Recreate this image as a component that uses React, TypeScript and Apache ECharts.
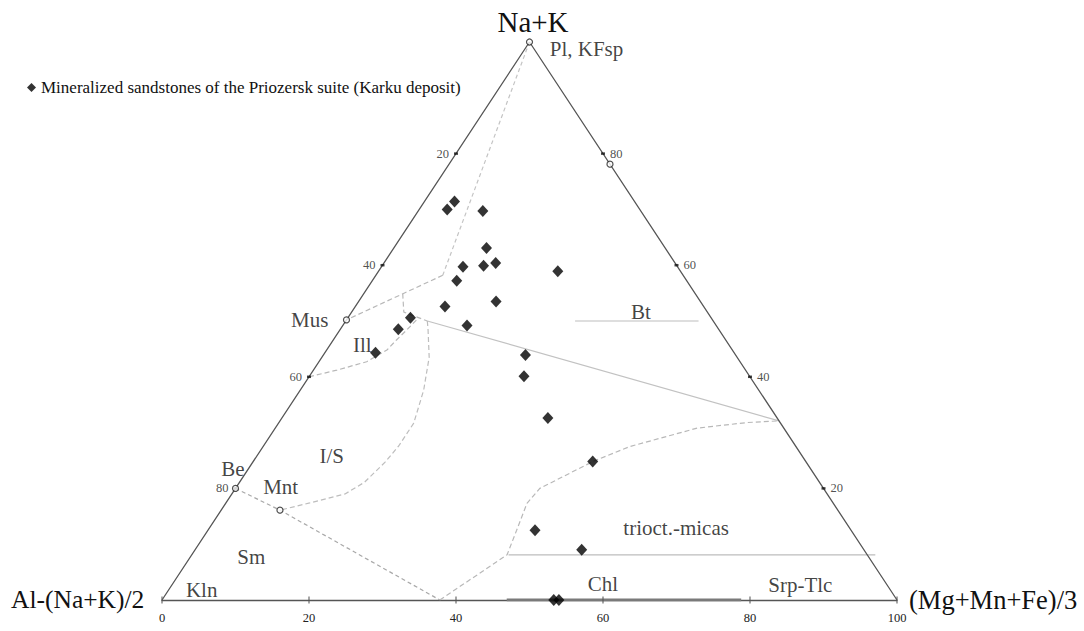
import React, { useEffect, useRef } from "react";
import * as echarts from "echarts";

const FONT = "'Liberation Serif', 'Times New Roman', Times, serif";
const sampleName = "Mineralized sandstones of the Priozersk suite (Karku deposit)";

// Sample compositions (%): Al-(Na+K)/2, Na+K, (Mg+Mn+Fe)/3
const sampleAl = [24.5, 26.2, 21.5, 24.3, 29.2, 26.3, 24.4, 16.7, 31.3, 27.8, 35.2, 40.9, 43.6, 33.9, 48.8, 28.6, 30.7, 31.2, 29.0, 43.0, 38.4, 46.7, 46.0];
const sampleNaK = [71.4, 70.0, 69.7, 63.1, 59.7, 59.9, 60.4, 58.9, 57.2, 53.5, 52.6, 50.6, 48.5, 49.2, 44.3, 43.9, 40.1, 32.6, 24.8, 12.5, 9.0, 0, 0];
const sampleMgFe = [4.1, 3.8, 8.8, 12.6, 11.1, 13.8, 15.2, 24.4, 11.5, 18.7, 12.2, 8.5, 7.9, 16.9, 6.9, 27.5, 29.2, 36.2, 46.2, 44.5, 52.6, 53.3, 54.0];

// Mineral end-members (open circles): Na+K, (Mg+Mn+Fe)/3
const memberNaK = [100, 78.1, 50.2, 20.0, 16.1];
const memberMgFe = [0, 21.9, 0, 0, 8.0];

// Field boundaries as [(Mg+Mn+Fe)/3, Na+K] pairs
const feldsparTie = [[0, 100], [9.1, 58.2]];
const muscoviteTie = [[9.1, 58.2], [0, 50.2]];
const illiteStep = [[5.3, 54.9], [7.1, 51.6], [11.1, 50.0]];
const illiteCurve = [[0, 40], [3.2, 41.2], [6.5, 42.7], [8.2, 44.8], [8.6, 46.6], [9.1, 48.4], [9.6, 50.5]];
const dioctBoundary = [[11.1, 50.0], [67.9, 32.1]];
const isCurve = [[11.1, 50.0], [12.0, 48.4], [14.6, 43.5], [16.8, 37.6], [18.4, 31.7], [18.4, 27.6], [18.0, 24.7], [17.0, 21.1], [15.4, 19.0], [11.4, 17.4], [8.0, 16.1]];
const smectiteTie = [[0, 20], [8.0, 16.1], [37.8, 0]];
const triocCurve = [[37.8, 0], [42.9, 8.1], [42.0, 12.5], [41.0, 17.3], [41.4, 20.0], [43.5, 22.1], [46.2, 24.8], [49.9, 27.5], [57.4, 30.8], [63.7, 31.8], [67.9, 32.1]];
const triocMicaLine = [[43.1, 8.1], [93.0, 8.1]];
const biotiteLine = [[31.2, 50.0], [48.0, 50.0]];
const chloriteLine = [[46.9, 0], [78.8, 0]];

// Field labels: text, (Mg+Mn+Fe)/3, Na+K
const fieldNames = ["Pl, KFsp", "Mus", "Ill", "Bt", "I/S", "Be", "Mnt", "Sm", "Kln", "trioct.-micas", "Chl", "Srp-Tlc"];
const fieldMgFe = [8.4, -5.0, 4.4, 39.3, 10.2, -2.1, 6.0, 8.3, 4.5, 63.5, 58.6, 85.5];
const fieldNaK = [98.7, 50.2, 45.7, 51.7, 25.8, 23.5, 20.3, 7.7, 1.8, 12.9, 2.8, 2.7];

// Tick labels
const edgeTicks = [20, 40, 60, 80];
const bottomTicks = [0, 20, 40, 60, 80, 100];

const toXY = (nak: number, mg: number) => [mg + nak / 2, nak];

export default function App() {
  const ref = useRef<HTMLDivElement>(null);
  useEffect(() => {
    if (!ref.current) return;
    const chart = echarts.init(ref.current, undefined, { renderer: "svg" });

    const boundary = (data: number[][], type: any, color: string, width = 1.2) => ({
      type: "line",
      data: data.map((p) => toXY(p[1], p[0])),
      symbol: "none",
      silent: true,
      lineStyle: { color, width, type },
      z: 2,
    });

    const option: any = {
      animation: false,
      backgroundColor: "#fff",
      grid: { left: 162, right: 187, top: 42, bottom: 31, containLabel: false },
      xAxis: {
        type: "value",
        min: 0,
        max: 100,
        interval: 20,
        splitLine: { show: false },
        axisTick: { show: false },
        axisLine: { show: true, lineStyle: { color: "#555", width: 1.3 } },
        axisLabel: { show: true, fontSize: 12.5, margin: 11, color: "#222", fontFamily: FONT },
      },
      yAxis: { type: "value", min: 0, max: 100, show: false },
      legend: {
        data: [{ name: sampleName, icon: "diamond" }],
        left: 22,
        top: 74,
        itemWidth: 9,
        itemHeight: 9,
        selectedMode: false,
        textStyle: { fontSize: 17, fontFamily: FONT, color: "#111" },
      },
      graphic: [
        { type: "text", x: 533, y: 22, style: { text: "Na+K", fontSize: 29, fontFamily: FONT, fill: "#111", textAlign: "center", textVerticalAlign: "middle" } },
        { type: "text", x: 11, y: 599, style: { text: "Al-(Na+K)/2", fontSize: 25.5, fontFamily: FONT, fill: "#111", textAlign: "left", textVerticalAlign: "middle" } },
        { type: "text", x: 909, y: 600, style: { text: "(Mg+Mn+Fe)/3", fontSize: 26.5, fontFamily: FONT, fill: "#111", textAlign: "left", textVerticalAlign: "middle" } },
      ],
      series: [
        {
          type: "line",
          data: [toXY(0, 0), toXY(100, 0), toXY(0, 100)],
          symbol: "none",
          silent: true,
          lineStyle: { color: "#555", width: 1.3 },
          z: 3,
        },
        boundary(feldsparTie, [4, 3], "#c4c4c4"),
        boundary(muscoviteTie, [5, 3], "#b8b8b8"),
        boundary(illiteStep, [5, 3], "#bbbbbb"),
        boundary(illiteCurve, [5, 3], "#b8b8b8"),
        boundary(dioctBoundary, "solid", "#c2c2c2"),
        boundary(isCurve, [5, 3], "#bdbdbd"),
        boundary(smectiteTie, [4, 3], "#a8a8a8"),
        boundary(triocCurve, [5, 3], "#b8b8b8"),
        boundary(triocMicaLine, "solid", "#bdbdbd"),
        boundary(biotiteLine, "solid", "#bdbdbd"),
        boundary(chloriteLine, "solid", "#7a7a7a", 3),
        {
          type: "scatter",
          symbol: "rect",
          symbolSize: [1.3, 7],
          silent: true,
          itemStyle: { color: "#555" },
          data: bottomTicks.map((v) => toXY(0, v)),
          z: 4,
        },
        {
          type: "scatter",
          symbol: "rect",
          symbolSize: [4, 2.5],
          silent: true,
          itemStyle: { color: "#111" },
          data: edgeTicks.map((v) => [...toXY(100 - v, 0), v]),
          label: { show: true, position: "left", distance: 5, formatter: (p: any) => String(p.value[2]), fontSize: 12.5, fontFamily: FONT, color: "#222" },
          z: 4,
        },
        {
          type: "scatter",
          symbol: "rect",
          symbolSize: [4, 2.5],
          silent: true,
          itemStyle: { color: "#111" },
          data: edgeTicks.map((v) => [...toXY(v, 100 - v), v]),
          label: { show: true, position: "right", distance: 5, formatter: (p: any) => String(p.value[2]), fontSize: 12.5, fontFamily: FONT, color: "#222" },
          z: 4,
        },
        {
          type: "scatter",
          symbol: "circle",
          symbolSize: 0.1,
          silent: true,
          clip: false,
          itemStyle: { color: "rgba(0,0,0,0)" },
          data: fieldNames.map((n, i) => [...toXY(fieldNaK[i], fieldMgFe[i]), n]),
          label: { show: true, position: "inside", formatter: (p: any) => p.value[2], fontSize: 21, fontFamily: FONT, color: "#111" },
          z: 5,
        },
        {
          type: "scatter",
          symbol: "circle",
          symbolSize: 6,
          silent: true,
          itemStyle: { color: "#fff", borderColor: "#222", borderWidth: 1.2 },
          data: memberNaK.map((v, i) => toXY(v, memberMgFe[i])),
          z: 8,
        },
        {
          name: sampleName,
          type: "scatter",
          symbol: "diamond",
          symbolSize: [11, 12],
          itemStyle: { color: "#000" },
          data: sampleNaK.map((v, i) => {
            const t = sampleAl[i] + v + sampleMgFe[i];
            return toXY((v / t) * 100, (sampleMgFe[i] / t) * 100);
          }),
          z: 10,
        },
      ],
    };
    chart.setOption(option);
    return () => chart.dispose();
  }, []);
  return (
    <div
      ref={ref}
      style={{ position: "absolute", left: 0, top: 0, width: 1084, height: 631, background: "#fff" }}
    />
  );
}
